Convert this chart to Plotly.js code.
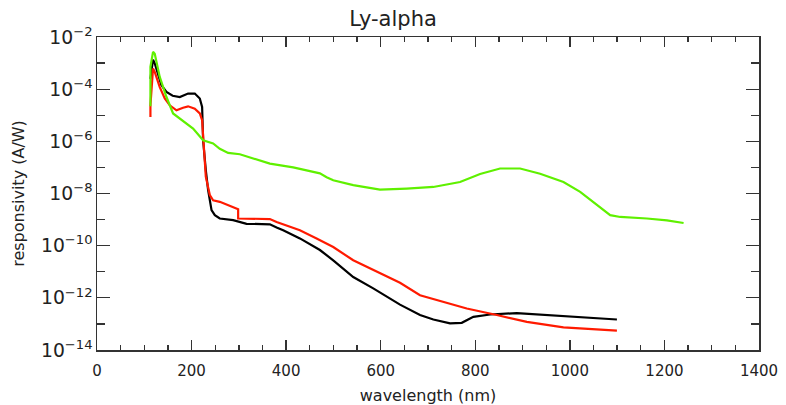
<!DOCTYPE html>
<html>
<head>
<meta charset="utf-8">
<script src="https://cdn.plot.ly/plotly-3.0.1.min.js"></script>
<style>html,body{margin:0;padding:0;background:#fff;}#chart{width:786px;height:405px;}</style>
</head>
<body>
<div id="chart"></div>
<script>
// Black curve
const blackX = [113, 118.5, 122, 136.3, 146.9, 160, 175.1, 192.6, 206.8, 217.4, 222.3, 224.4, 230.1, 235, 242.2, 249.2, 259.7, 287.9, 316.3, 365.6, 379.8, 393.7, 429.1, 471.4, 499.6, 541.9, 584.2, 640.8, 683.1, 711.3, 746.6, 771.4, 795.9, 831.3, 887.8, 958.3, 1036, 1099.5];
const blackY = [2.5e-4, 1.35e-3, 1.0e-3, 1.41e-4, 7.8e-5, 5.6e-5, 5.0e-5, 6.8e-5, 6.8e-5, 4.4e-5, 2.1e-5, 1.1e-6, 7.9e-8, 1.35e-8, 2.3e-9, 1.48e-9, 1.1e-9, 9.5e-10, 6.9e-10, 6.6e-10, 5.0e-10, 3.9e-10, 1.9e-10, 6.8e-11, 2.75e-11, 6.3e-12, 2.3e-12, 5.5e-13, 2.2e-13, 1.48e-13, 1.05e-13, 1.1e-13, 1.86e-13, 2.3e-13, 2.6e-13, 2.2e-13, 1.78e-13, 1.48e-13];

// Red curve
const redX = [113, 113, 118.5, 122.1, 132.7, 143.3, 153.9, 168.1, 182, 192.6, 206.8, 217.4, 222.3, 225.9, 230.1, 238.6, 245.6, 259.7, 284.5, 298.5, 298.5, 365.6, 379.8, 429.1, 464.4, 499.6, 541.9, 584.2, 640.8, 683.1, 732.4, 781.9, 845.5, 909, 986.5, 1049.9, 1099.5];
const redY = [8.5e-6, 2.4e-5, 6.2e-4, 4.6e-4, 1.2e-4, 4.4e-5, 2.4e-5, 1.55e-5, 1.95e-5, 2.2e-5, 1.8e-5, 1.17e-5, 6.5e-6, 6.2e-7, 4.4e-8, 8.7e-9, 5.5e-9, 4.8e-9, 3.1e-9, 2.5e-9, 1.1e-9, 1.05e-9, 8.1e-10, 3.9e-10, 1.9e-10, 8.9e-11, 2.75e-11, 1.15e-11, 3.8e-12, 1.26e-12, 7.1e-13, 3.9e-13, 2.2e-13, 1.2e-13, 7.4e-14, 6.2e-14, 5.5e-14];

// Green curve
const greenX = [113, 113, 118.5, 122.1, 132.7, 146.9, 160.9, 178.7, 203.2, 224.4, 245.6, 259.7, 277.3, 302.1, 330.2, 365.6, 414.9, 471.4, 485.6, 499.6, 541.9, 598.4, 655, 683.1, 711.3, 767.8, 810.1, 852.4, 894.8, 937.1, 986.5, 1021.8, 1049.9, 1085.3, 1106.5, 1163, 1205.3, 1240.5];
const greenY = [2.2e-5, 7.1e-4, 2.69e-3, 2.29e-3, 2.95e-4, 5.0e-5, 1.17e-5, 6.5e-6, 3.1e-6, 1.1e-6, 8.3e-7, 5.2e-7, 3.6e-7, 3.2e-7, 2.2e-7, 1.4e-7, 1.0e-7, 5.9e-8, 4.2e-8, 3.2e-8, 2.1e-8, 1.4e-8, 1.55e-8, 1.66e-8, 1.78e-8, 2.75e-8, 5.6e-8, 9.1e-8, 9.1e-8, 5.75e-8, 2.75e-8, 1.15e-8, 4.8e-9, 1.48e-9, 1.26e-9, 1.1e-9, 9.3e-10, 7.4e-10];

const titleText = "Ly-alpha";
const xTitle = "wavelength (nm)";
const yTitle = "responsivity (A/W)";

const font = "DejaVu Sans, sans-serif";
const textColor = "#222222";
const traces = [
  {x: blackX, y: blackY, type: "scatter", mode: "lines", line: {color: "#000000", width: 2.2}, hoverinfo: "skip"},
  {x: redX, y: redY, type: "scatter", mode: "lines", line: {color: "#ff1a00", width: 2.2}, hoverinfo: "skip"},
  {x: greenX, y: greenY, type: "scatter", mode: "lines", line: {color: "#5ff000", width: 2.2}, hoverinfo: "skip"}
];

const layout = {
  width: 786, height: 405,
  margin: {l: 97, r: 27, t: 37, b: 55, pad: 0},
  paper_bgcolor: "#ffffff", plot_bgcolor: "#ffffff",
  showlegend: false,
  font: {family: font, color: textColor, size: 15},
  title: {text: titleText, x: 0.5, xanchor: "center", y: 0.955, yanchor: "middle", font: {family: font, size: 21, color: textColor}},
  xaxis: {
    range: [0, 1400], dtick: 200, tick0: 0,
    showgrid: false, zeroline: false,
    showline: true, linecolor: "#333333", linewidth: 1.5, mirror: "ticks",
    ticks: "inside", ticklen: 10, tickwidth: 1.3, tickcolor: "#333333",
    ticklabelstandoff: 6,
    tickfont: {family: font, size: 15, color: textColor},
    minor: {dtick: 50, ticks: "inside", ticklen: 5, tickwidth: 1.3, tickcolor: "#333333", showgrid: false},
    title: {text: xTitle, font: {family: font, size: 16, color: textColor}, standoff: 12}
  },
  yaxis: {
    type: "log", range: [-14, -2], dtick: 2, tick0: 0,
    exponentformat: "power", showexponent: "all",
    showgrid: false, zeroline: false,
    showline: true, linecolor: "#333333", linewidth: 1.5, mirror: "ticks",
    ticks: "inside", ticklen: 13, tickwidth: 1.3, tickcolor: "#333333",
    tickfont: {family: font, size: 15, color: textColor},
    minor: {dtick: 1, ticks: "inside", ticklen: 8, tickwidth: 1.3, tickcolor: "#333333", showgrid: false},
    title: {text: yTitle, font: {family: font, size: 16, color: textColor}, standoff: 12}
  }
};

Plotly.newPlot("chart", traces, layout, {staticPlot: true, displayModeBar: false});
</script>
</body>
</html>
